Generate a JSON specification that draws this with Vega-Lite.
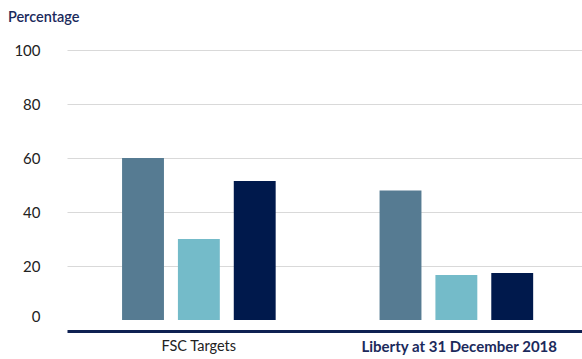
{
  "$schema": "https://vega.github.io/schema/vega-lite/v6.json",
  "autosize": "none",
  "width": 515,
  "height": 270,
  "padding": {"left": 67, "top": 50, "right": 0, "bottom": 39},
  "background": "white",
  "title": {
    "text": "Percentage",
    "anchor": "start",
    "frame": "bounds",
    "dx": -6,
    "offset": 18,
    "font": "Lato",
    "fontSize": 14.5,
    "fontWeight": 600,
    "color": "#1b2a5c"
  },
  "data": {
    "values": [
      {"group": "FSC Targets", "series": "A", "value": 60},
      {"group": "FSC Targets", "series": "B", "value": 30},
      {"group": "FSC Targets", "series": "C", "value": 51.5},
      {"group": "Liberty at 31 December 2018", "series": "A", "value": 48},
      {"group": "Liberty at 31 December 2018", "series": "B", "value": 16.7},
      {"group": "Liberty at 31 December 2018", "series": "C", "value": 17.4}
    ]
  },
  "mark": {"type": "bar"},
  "encoding": {
    "x": {
      "field": "group",
      "type": "nominal",
      "sort": null,
      "scale": {"paddingInner": 0, "paddingOuter": 0},
      "axis": {
        "title": null,
        "labelAngle": 0,
        "ticks": false,
        "offset": 11,
        "domainColor": "#0f2152",
        "domainWidth": 3,
        "labelPadding": 8,
        "labelLimit": 0,
        "labelFont": "Lato",
        "labelOffset": {"condition": {"test": "datum.value === 'Liberty at 31 December 2018'", "value": 6}, "value": 3},
        "labelFontSize": {"condition": {"test": "datum.value === 'Liberty at 31 December 2018'", "value": 15}, "value": 14.5},
        "labelColor": {"condition": {"test": "datum.value === 'Liberty at 31 December 2018'", "value": "#1b2a5c"}, "value": "#222222"},
        "labelFontWeight": {"condition": {"test": "datum.value === 'Liberty at 31 December 2018'", "value": "bold"}, "value": "normal"}
      }
    },
    "xOffset": {
      "field": "series",
      "type": "nominal",
      "scale": {"paddingInner": 0.25, "paddingOuter": 0.93, "align": 0.53}
    },
    "y": {
      "field": "value",
      "type": "quantitative",
      "scale": {"domain": [0, 100], "nice": false},
      "axis": {
        "title": null,
        "values": [0, 20, 40, 60, 80, 100],
        "domain": false,
        "ticks": false,
        "labelPadding": 27,
        "labelFont": "Lato",
        "labelFontSize": 15,
        "labelColor": "#222222",
        "labelOffset": {"condition": {"test": "datum.value === 0", "value": -4}, "value": 0},
        "gridColor": "#d9d9d9",
        "gridWidth": 1,
        "gridOpacity": {"condition": {"test": "datum.value === 0", "value": 0}, "value": 1}
      }
    },
    "color": {
      "field": "series",
      "type": "nominal",
      "legend": null,
      "scale": {"domain": ["A", "B", "C"], "range": ["#567b92", "#74bbc9", "#00194c"]}
    }
  },
  "config": {"view": {"stroke": null}}
}
